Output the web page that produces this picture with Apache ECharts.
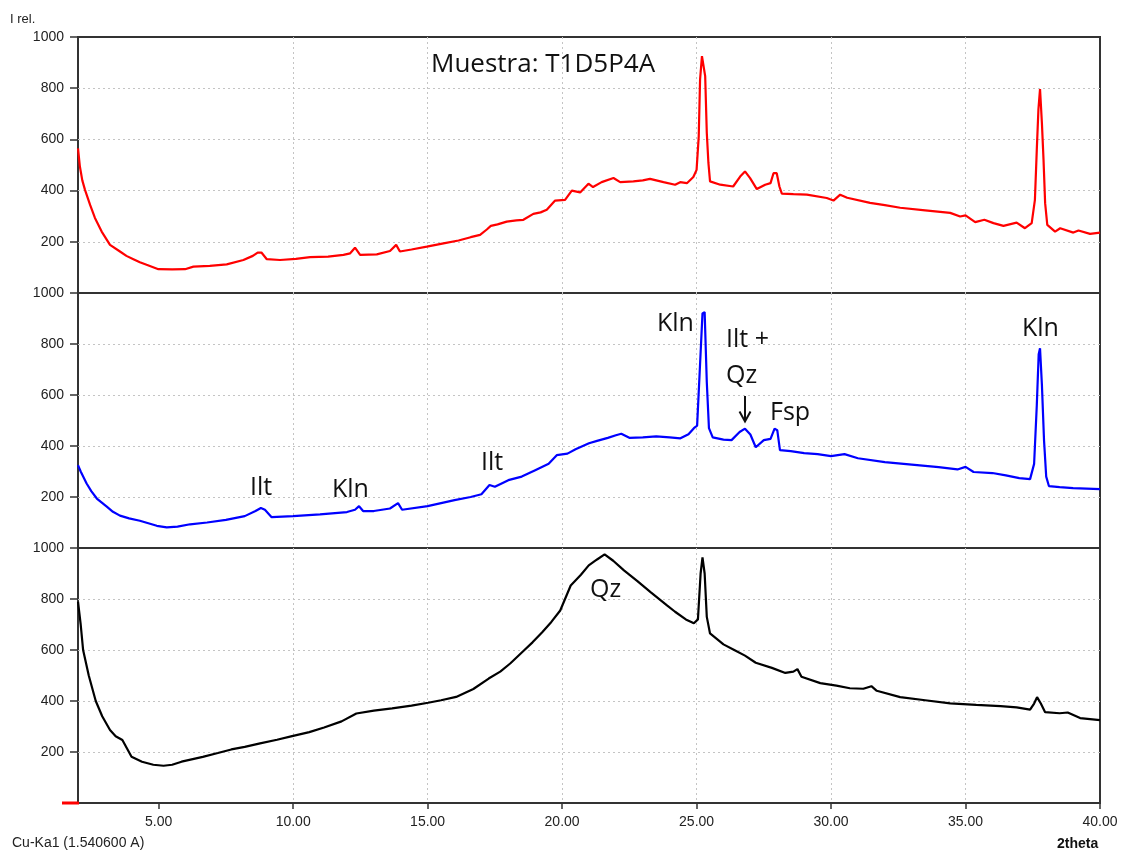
<!DOCTYPE html>
<html>
<head>
<meta charset="utf-8">
<script src="https://cdn.jsdelivr.net/npm/echarts@6/dist/echarts.min.js"></script>
<style>
  html, body { margin: 0; padding: 0; background: #ffffff; }
  #chart { width: 1121px; height: 853px; }
</style>
</head>
<body>
<div id="chart"></div>
<script>
// X-ray diffractograms of sample T1D5P4A, three stacked traces (Cu-Ka1, 2theta)

const thetaTicks = [5, 10, 15, 20, 25, 30, 35, 40];
const intensityTicks = [0, 200, 400, 600, 800, 1000];

// Top trace (red)
const redTheta = [
  2.0, 2.07, 2.16, 2.26, 2.45, 2.63, 2.88, 3.19, 3.56, 3.8, 4.06, 4.3, 4.55, 4.99, 5.5,
  5.98, 6.29, 6.9, 7.53, 8.15, 8.5, 8.68, 8.82, 9.02, 9.51, 10.1, 10.63, 11.3, 11.87, 12.12,
  12.3, 12.49, 13.11, 13.6, 13.83, 13.97, 14.4, 14.97, 15.59, 16.15, 16.6, 16.95, 17.2, 17.35, 17.6,
  17.94, 18.3, 18.56, 18.93, 19.2, 19.43, 19.74, 20.11, 20.36, 20.67, 20.98, 21.15, 21.47, 21.91, 22.16,
  22.65, 23.0, 23.27, 23.77, 24.2, 24.39, 24.64, 24.88, 25.0, 25.08, 25.13, 25.2, 25.26, 25.32, 25.38,
  25.44, 25.5, 25.88, 26.36, 26.62, 26.8, 26.99, 27.24, 27.55, 27.75, 27.86, 27.98, 28.08, 28.17, 28.6,
  29.1, 29.84, 30.09, 30.34, 30.6, 31.45, 32.0, 32.57, 33.5, 34.43, 34.8, 35.0, 35.36, 35.7, 36.04,
  36.41, 36.9, 37.21, 37.46, 37.58, 37.65, 37.71, 37.77, 37.84, 37.9, 37.96, 38.04, 38.33, 38.52, 39.01,
  39.2, 39.63, 40.0
];
const redCounts = [
  565, 494, 440, 403, 344, 293, 240, 188, 162, 145, 132, 120, 110, 93, 92,
  93, 103, 106, 112, 129, 145, 158, 158, 132, 129, 133, 140, 142, 149, 155,
  177, 149, 151, 164, 188, 162, 170, 181, 194, 205, 218, 227, 248, 262, 268,
  279, 284, 286, 309, 315, 325, 361, 364, 400, 393, 427, 414, 433, 449, 433,
  436, 440, 446, 433, 423, 433, 429, 453, 481, 612, 834, 925, 928, 847, 625,
  508, 436, 423, 416, 455, 475, 449, 406, 423, 429, 468, 468, 416, 388, 386,
  384, 371, 361, 384, 372, 352, 343, 333, 323, 313, 299, 303, 277, 286, 273,
  262, 275, 253, 273, 364, 560, 716, 797, 664, 521, 351, 266, 240, 253, 236,
  244, 231, 236
];

// Middle trace (blue)
const blueTheta = [
  2.0, 2.1, 2.32, 2.5, 2.7, 3.07, 3.3, 3.56, 3.9, 4.3, 4.93, 5.3, 5.7, 6.17, 6.8,
  7.5, 8.2, 8.6, 8.8, 8.95, 9.2, 10.0, 11.0, 12.0, 12.3, 12.45, 12.6, 13.0, 13.6, 13.9,
  14.05, 15.0, 16.0, 16.6, 17.0, 17.3, 17.5, 18.0, 18.5, 19.0, 19.5, 19.8, 20.2, 20.5, 21.0,
  21.3, 21.7, 22.0, 22.2, 22.5, 23.0, 23.5, 24.0, 24.4, 24.7, 24.9, 25.02, 25.12, 25.22, 25.3,
  25.38, 25.46, 25.6, 26.0, 26.3, 26.6, 26.8, 27.0, 27.2, 27.5, 27.75, 27.9, 28.0, 28.1, 28.5,
  29.0, 29.5, 30.0, 30.5, 31.0, 32.0, 33.0, 34.0, 34.7, 35.0, 35.3, 36.0, 36.5, 37.0, 37.4,
  37.55, 37.65, 37.72, 37.77, 37.84, 37.92, 38.0, 38.1, 38.5, 39.0, 39.5, 40.0
];
const blueCounts = [
  325, 300, 253, 222, 194, 162, 142, 127, 116, 107, 87, 81, 84, 93, 100,
  110, 125, 145, 157, 150, 121, 125, 132, 141, 150, 164, 145, 145, 155, 176,
  150, 164, 188, 200, 211, 247, 240, 266, 280, 305, 330, 364, 370, 387, 411,
  420, 432, 442, 448, 432, 434, 438, 434, 430, 446, 470, 480, 700, 920, 925,
  650, 470, 434, 425, 423, 455, 468, 445, 395, 423, 428, 468, 462, 384, 380,
  372, 368, 360, 368, 352, 337, 327, 317, 308, 318, 298, 294, 285, 274, 270,
  330, 560, 760, 783, 640, 420, 280, 243, 239, 235, 233, 231
];

// Bottom trace (black)
const blackTheta = [
  2.0, 2.1, 2.19, 2.4, 2.66, 2.9, 3.19, 3.4, 3.65, 3.99, 4.38, 4.8, 5.18, 5.5, 5.85,
  6.64, 7.2, 7.7, 8.2, 8.77, 9.4, 9.96, 10.6, 11.15, 11.8, 12.35, 13.0, 13.68, 14.4, 15.02,
  15.5, 16.06, 16.7, 17.27, 17.7, 18.07, 18.59, 18.9, 19.26, 19.6, 19.93, 20.32, 20.7, 20.99, 21.3,
  21.58, 21.9, 22.3, 22.8, 23.3, 23.9, 24.2, 24.6, 24.9, 25.05, 25.15, 25.22, 25.3, 25.38, 25.5,
  26.0, 26.4, 26.8, 27.2, 27.8, 28.3, 28.6, 28.75, 28.9, 29.6, 30.2, 30.7, 31.2, 31.5, 31.7,
  32.57, 33.5, 34.43, 35.4, 36.3, 36.9, 37.4, 37.55, 37.66, 37.8, 37.96, 38.5, 38.8, 39.26, 40.0
];
const blackCounts = [
  790, 700, 600, 500, 400, 340, 286, 262, 247, 181, 162, 150, 146, 150, 162,
  181, 196, 210, 220, 234, 248, 262, 278, 296, 320, 351, 362, 371, 382, 393,
  403, 416, 447, 488, 515, 547, 599, 630, 670, 710, 755, 853, 895, 932, 955,
  975, 950, 912, 870, 826, 775, 750, 720, 705, 720, 900, 963, 900, 730, 665,
  622, 600, 578, 550, 530, 510, 515, 525, 495, 470, 460, 450, 448, 458, 440,
  415, 403, 391, 385, 380, 375, 366, 390, 415, 390, 356, 352, 355, 333, 325
];

const traces = [
  { theta: redTheta, counts: redCounts, color: '#ff0000' },
  { theta: blueTheta, counts: blueCounts, color: '#0000ff' },
  { theta: blackTheta, counts: blackCounts, color: '#000000' }
];

const panelTops = [37, 293, 548];
const panelHeight = 255;
const gridLine = { color: '#c4c4c4', width: 1, type: [2, 3] };
const tickFont = { fontFamily: 'Liberation Sans, Arial, sans-serif', fontSize: 14, color: '#222' };
const noteFont = 'Open Sans, Noto Sans, sans-serif';

const grids = panelTops.map((top, i) => ({
  left: 78, right: 21, top: top, height: i === 0 ? 256 : panelHeight,
  show: true, borderColor: '#333', borderWidth: 2, backgroundColor: 'transparent'
}));

const xAxes = panelTops.map((_, i) => ({
  type: 'value', gridIndex: i, min: 2, max: 40,
  axisLine: { show: false },
  axisTick: {
    show: i === 2, customValues: thetaTicks, length: 6,
    lineStyle: { color: '#333', width: 1.5 }
  },
  axisLabel: {
    show: i === 2, customValues: thetaTicks, margin: 12,
    formatter: v => v.toFixed(2), ...tickFont
  },
  splitLine: { show: true, showMinLine: false, showMaxLine: false, lineStyle: gridLine }
}));

const yAxes = panelTops.map((_, i) => ({
  type: 'value', gridIndex: i, min: intensityTicks[0], max: intensityTicks[intensityTicks.length - 1], interval: 200,
  axisLine: { show: false },
  axisTick: { show: true, length: 8, lineStyle: { color: '#333', width: 1.5 } },
  axisLabel: { margin: 14, formatter: v => (v === 0 ? '' : String(v)), ...tickFont },
  splitLine: { show: true, showMinLine: false, showMaxLine: false, lineStyle: gridLine }
}));

const series = traces.map((t, i) => ({
  type: 'line', xAxisIndex: i, yAxisIndex: i,
  data: t.theta.map((x, k) => [x, t.counts[k]]),
  showSymbol: false, smooth: false,
  lineStyle: { color: t.color, width: 2.2 },
  itemStyle: { color: t.color },
  z: 3
}));

// Phase labels, placed by the vertical centre of their capitals
function note(text, x, y, size) {
  return {
    type: 'text', left: x, top: y - size * 0.45, z: 10,
    style: { text: text, fontFamily: noteFont, fontSize: size, fill: '#111' }
  };
}

const graphics = [
  { type: 'text', left: 10, top: 13, style: { text: 'I rel.', fontFamily: 'Liberation Sans, Arial, sans-serif', fontSize: 13, fill: '#222' } },
  { type: 'text', left: 12, top: 836, style: { text: 'Cu-Ka1 (1.540600 A)', fontFamily: 'Liberation Sans, Arial, sans-serif', fontSize: 14, fill: '#222' } },
  { type: 'text', left: 1057, top: 837, style: { text: '2theta', fontFamily: 'Liberation Sans, Arial, sans-serif', fontSize: 14, fontWeight: 'bold', fill: '#111' } },
  { type: 'line', shape: { x1: 62, y1: 803, x2: 79, y2: 803 }, style: { stroke: '#ff0000', lineWidth: 3 }, z: 10 },
  note('Muestra: T1D5P4A', 431, 63, 26),
  note('Kln', 657, 323, 25),
  note('Ilt +', 726, 339, 25),
  note('Qz', 726, 375, 25),
  note('Fsp', 770, 412, 25),
  note('Kln', 1022, 328, 25),
  note('Ilt', 250, 487, 25),
  note('Kln', 332, 489, 25),
  note('Ilt', 481, 462, 25),
  note('Qz', 590, 589, 25),
  { type: 'line', shape: { x1: 745, y1: 396, x2: 745, y2: 420 }, style: { stroke: '#111', lineWidth: 2 }, z: 10 },
  { type: 'polyline', shape: { points: [[739.5, 411.5], [745, 421.5], [750.5, 411.5]] }, style: { stroke: '#111', lineWidth: 2, fill: null }, z: 10 }
];

const chart = echarts.init(document.getElementById('chart'), null, { renderer: 'canvas' });
chart.setOption({
  animation: false,
  backgroundColor: '#ffffff',
  grid: grids,
  xAxis: xAxes,
  yAxis: yAxes,
  series: series,
  graphic: graphics
});
</script>
</body>
</html>
